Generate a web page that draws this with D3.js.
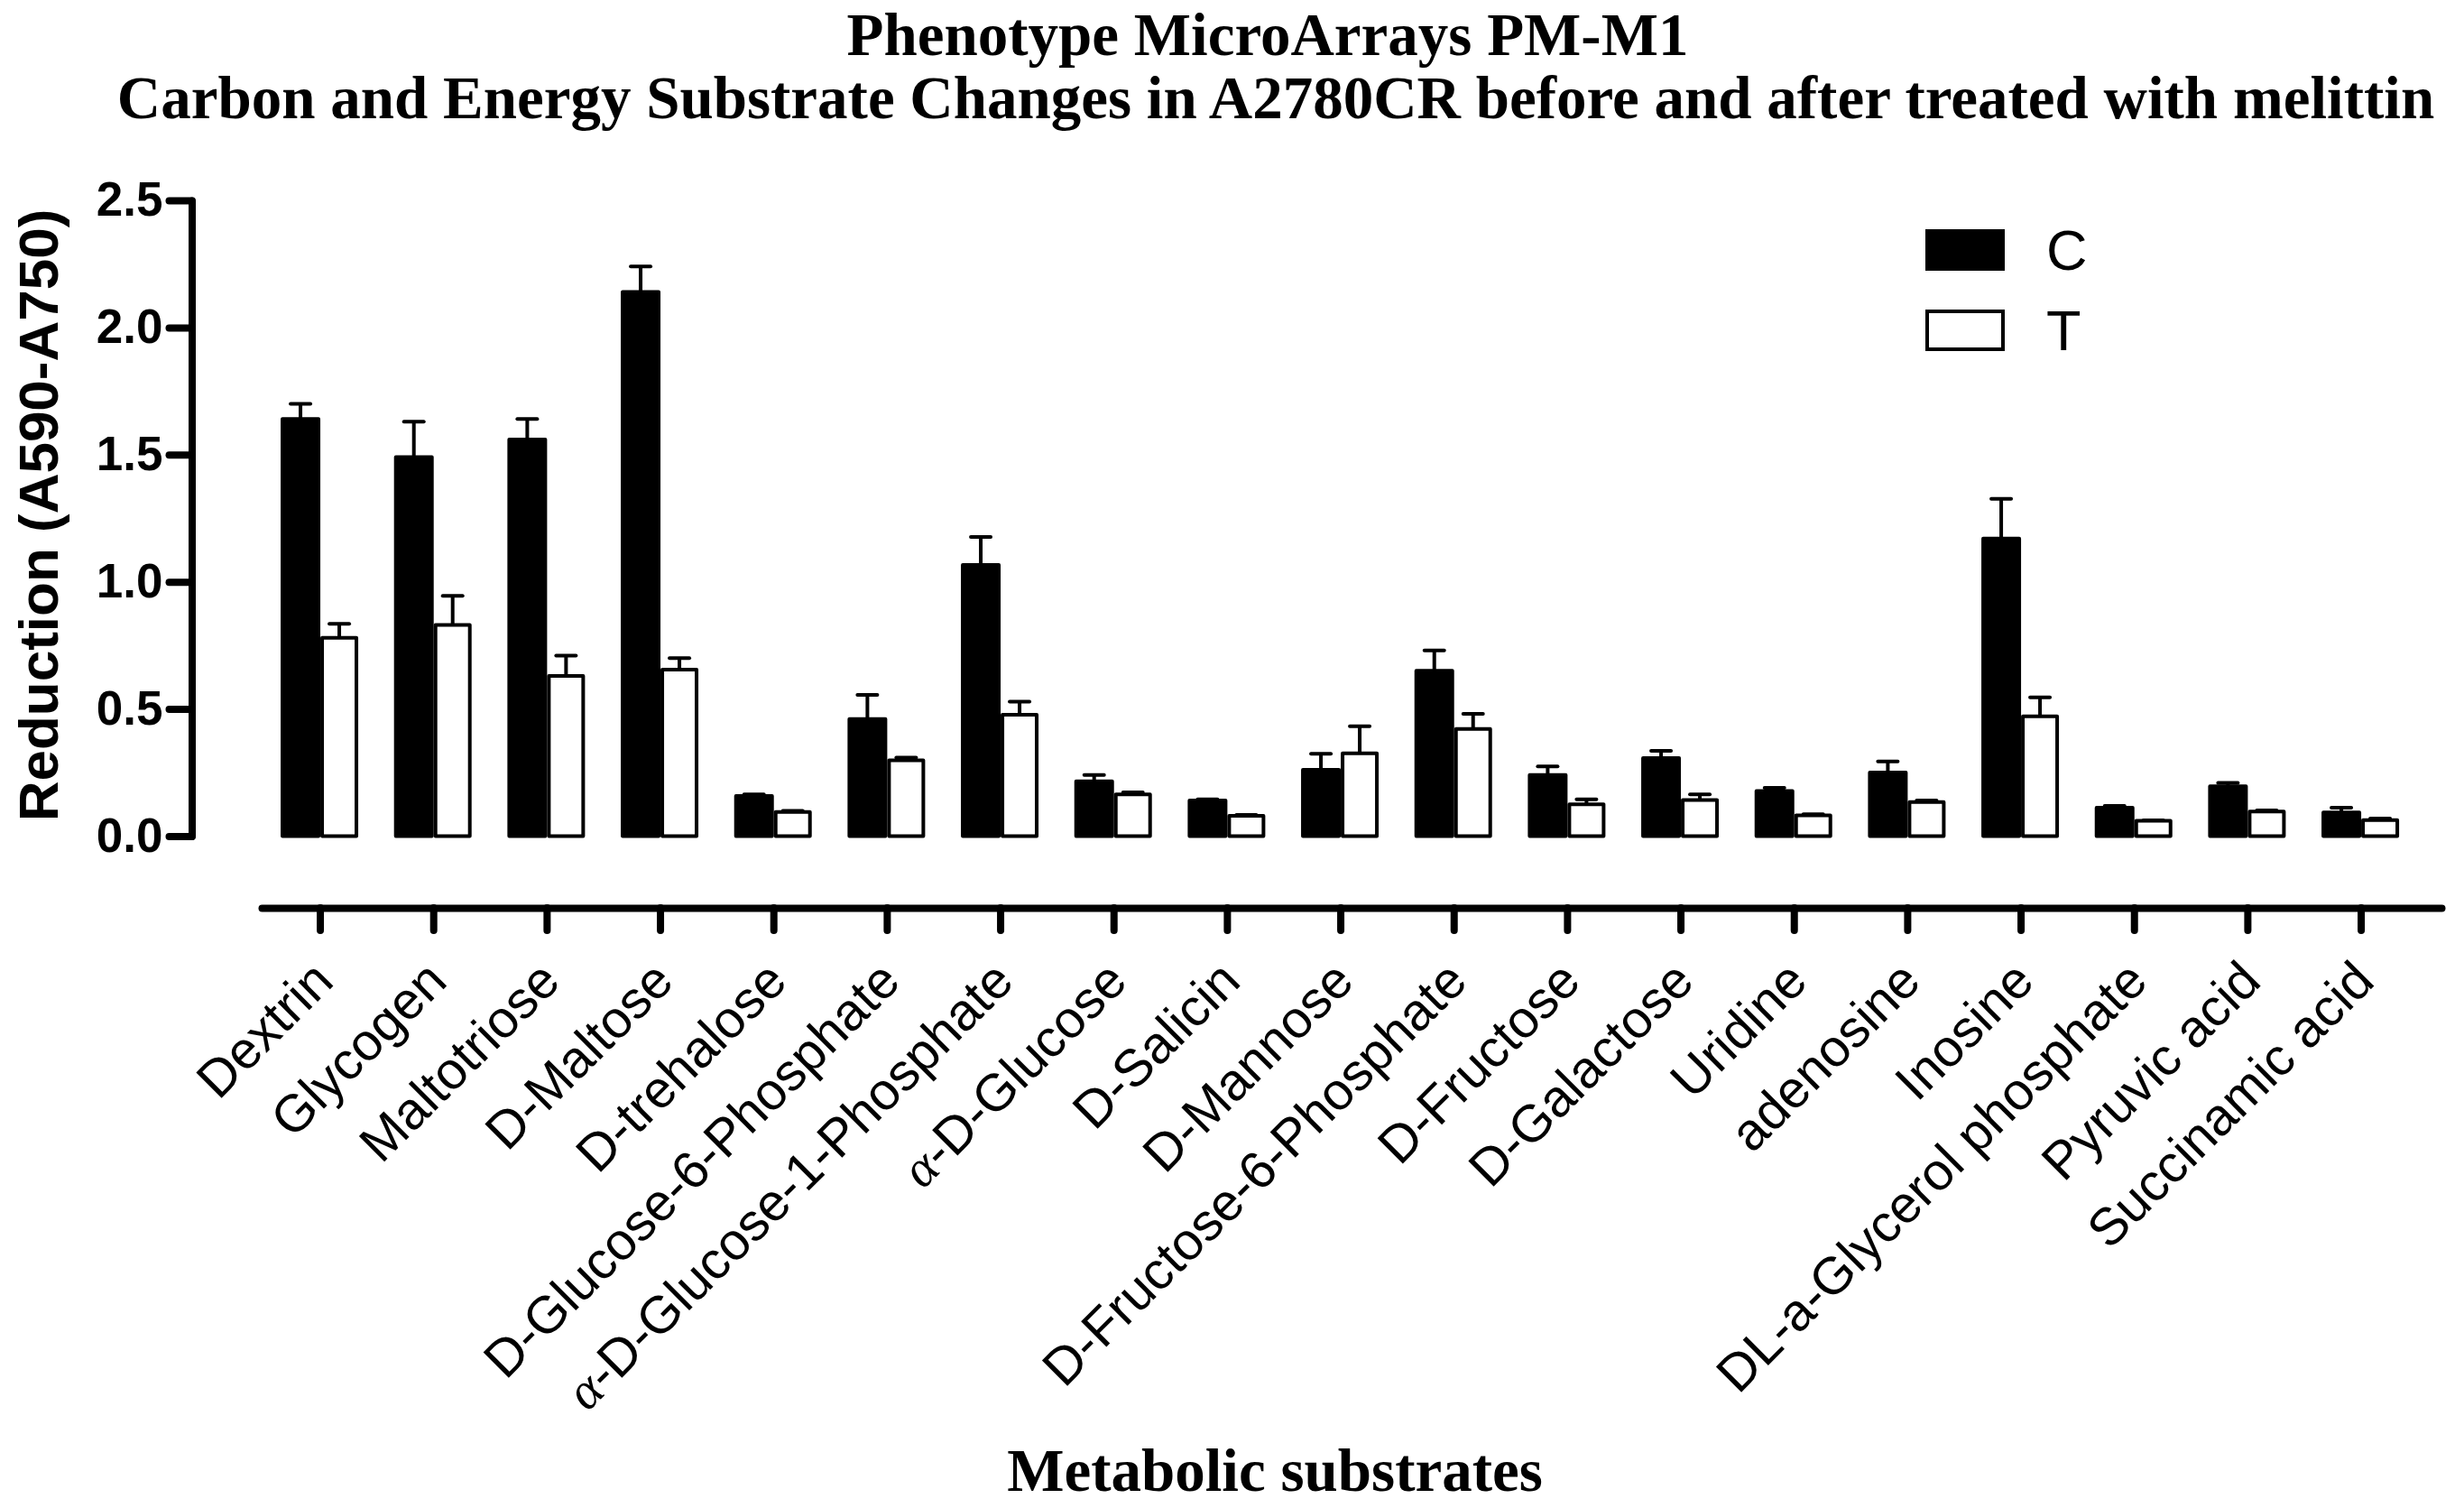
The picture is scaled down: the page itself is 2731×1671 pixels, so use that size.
<!DOCTYPE html>
<html lang="en">
<head>
<meta charset="UTF-8">
<title>Phenotype MicroArrays PM-M1</title>
<script src="https://d3js.org/d3.v7.min.js"></script>
<style>
  body { margin: 0; background: #fff; }
  svg { display: block; }
  .axis path, .axis line { stroke: #000; stroke-width: 8; stroke-linecap: round; }
  .axis text { fill: #000; }
  .title { font-family: "Liberation Serif", "Times New Roman", serif; font-weight: bold; }
  .sans { font-family: "Liberation Sans", Arial, sans-serif; }
</style>
</head>
<body>
<div id="chart"></div>
<script>
// substrates on the x axis
const categories = [
  "Dextrin", "Glycogen", "Maltotriose", "D-Maltose", "D-trehalose",
  "D-Glucose-6-Phosphate", "α-D-Glucose-1-Phosphate", "α-D-Glucose",
  "D-Salicin", "D-Mannose", "D-Fructose-6-Phosphate", "D-Fructose",
  "D-Galactose", "Uridine", "adenosine", "Inosine",
  "DL-a-Glycerol phosphate", "Pyruvic acid", "Succinamic acid"
];

// C = before melittin, T = after
const cMean = [1.64, 1.49, 1.56, 2.14, 0.158, 0.46, 1.066, 0.216, 0.14, 0.261,
               0.65, 0.24, 0.307, 0.177, 0.25, 1.17, 0.112, 0.196, 0.093];
const cErr  = [0.06, 0.14, 0.08, 0.10, 0.006, 0.095, 0.11, 0.024, 0.005, 0.063,
               0.08, 0.034, 0.028, 0.013, 0.044, 0.156, 0.007, 0.013, 0.019];
const tMean = [0.78, 0.83, 0.63, 0.655, 0.095, 0.298, 0.477, 0.164, 0.08, 0.326,
               0.421, 0.125, 0.142, 0.082, 0.134, 0.471, 0.06, 0.097, 0.063];
const tErr  = [0.055, 0.115, 0.08, 0.045, 0.004, 0.011, 0.052, 0.008, 0.003, 0.106,
               0.06, 0.02, 0.022, 0.004, 0.006, 0.075, 0.002, 0.004, 0.006];

const yTicks = [0, 0.5, 1.0, 1.5, 2.0, 2.5];
const seriesNames = ["C", "T"];

const W = 2731, H = 1671;

const svg = d3.select("#chart").append("svg")
    .attr("width", W)
    .attr("height", H)
    .attr("viewBox", `0 0 ${W} ${H}`);

const y = d3.scaleLinear().domain([0, 2.5]).range([926.5, 222]);

// band scale: a little more room on the right end of the axis line
const x = d3.scaleBand()
    .domain(categories)
    .range([290, 2706])
    .paddingInner(0)
    .paddingOuter(0.1126)
    .align(0.078);

// titles
svg.append("text").attr("class", "title")
    .attr("x", 1405).attr("y", 61)
    .attr("text-anchor", "middle")
    .style("font-size", "67px")
    .text("Phenotype MicroArrays PM-M1");

svg.append("text").attr("class", "title")
    .attr("x", 1414).attr("y", 131)
    .attr("text-anchor", "middle")
    .style("font-size", "67px")
    .text("Carbon and Energy Substrate Changes in A2780CR before and after treated with melittin");

// Y axis
const yAxis = svg.append("g")
    .attr("class", "axis sans")
    .attr("transform", "translate(212.5,0)")
    .call(d3.axisLeft(y).tickValues(yTicks).tickFormat(d3.format(".1f"))
        .tickSize(25).tickSizeOuter(0).tickPadding(7));
yAxis.selectAll("text")
    .style("font-size", "53px")
    .style("font-weight", "bold");

svg.append("text").attr("class", "sans")
    .attr("transform", "translate(64,571) rotate(-90)")
    .attr("text-anchor", "middle")
    .style("font-size", "62px")
    .style("font-weight", "bold")
    .text("Reduction (A590-A750)");

// X axis (separate line below the bars)
const xAxis = svg.append("g")
    .attr("class", "axis sans")
    .attr("transform", "translate(0,1006)")
    .call(d3.axisBottom(x).tickSize(25).tickSizeOuter(0));

xAxis.selectAll("text")
    .attr("x", null).attr("y", null).attr("dy", null)
    .attr("transform", "translate(17,84) rotate(-45)")
    .style("text-anchor", "end")
    .style("font-size", "58px")
    .each(function(d) {
        if (d.startsWith("α")) {
            const t = d3.select(this).text("");
            t.append("tspan").style("font-family", "'Liberation Serif', serif")
                .style("font-style", "italic").text("α");
            t.append("tspan").text(d.slice(1));
        }
    });

svg.append("text").attr("class", "title")
    .attr("x", 1413).attr("y", 1652)
    .attr("text-anchor", "middle")
    .style("font-size", "67px")
    .text("Metabolic substrates");

// bars
const rows = categories.map((c, i) => ({
    cat: c, c: cMean[i], ce: cErr[i], t: tMean[i], te: tErr[i]
}));

const groups = svg.append("g").selectAll("g")
    .data(rows)
    .join("g")
    .attr("transform", d => `translate(${x(d.cat) + x.bandwidth() / 2},0)`);

// error bars first so the bar tops cover the stem start
groups.append("line")
    .attr("x1", -22).attr("x2", -22)
    .attr("y1", d => y(d.c)).attr("y2", d => y(d.c + d.ce))
    .attr("stroke", "#000").attr("stroke-width", 4);
groups.append("line")
    .attr("x1", -33).attr("x2", -11)
    .attr("y1", d => y(d.c + d.ce)).attr("y2", d => y(d.c + d.ce))
    .attr("stroke", "#000").attr("stroke-width", 4).attr("stroke-linecap", "round");

groups.append("line")
    .attr("x1", 21).attr("x2", 21)
    .attr("y1", d => y(d.t)).attr("y2", d => y(d.t + d.te))
    .attr("stroke", "#000").attr("stroke-width", 4);
groups.append("line")
    .attr("x1", 10).attr("x2", 32)
    .attr("y1", d => y(d.t + d.te)).attr("y2", d => y(d.t + d.te))
    .attr("stroke", "#000").attr("stroke-width", 4).attr("stroke-linecap", "round");

groups.append("rect")
    .attr("x", -42).attr("width", 40)
    .attr("y", d => y(d.c)).attr("height", d => y(0) - y(d.c))
    .attr("fill", "#000").attr("stroke", "#000").attr("stroke-width", 4)
    .attr("stroke-linejoin", "round");

groups.append("rect")
    .attr("x", 2).attr("width", 38)
    .attr("y", d => y(d.t)).attr("height", d => y(0) - y(d.t))
    .attr("fill", "#fff").attr("stroke", "#000").attr("stroke-width", 4)
    .attr("stroke-linejoin", "round");

// legend
const legend = svg.append("g").attr("transform", "translate(2134,254)");
seriesNames.forEach((name, i) => {
    legend.append("rect")
        .attr("x", 2).attr("y", i * 89 + 2)
        .attr("width", 84).attr("height", 42)
        .attr("fill", i === 0 ? "#000" : "#fff")
        .attr("stroke", "#000").attr("stroke-width", 4);
    legend.append("text").attr("class", "sans")
        .attr("x", 134).attr("y", i * 89 + 45)
        .style("font-size", "63px")
        .text(name);
});
</script>
</body>
</html>
